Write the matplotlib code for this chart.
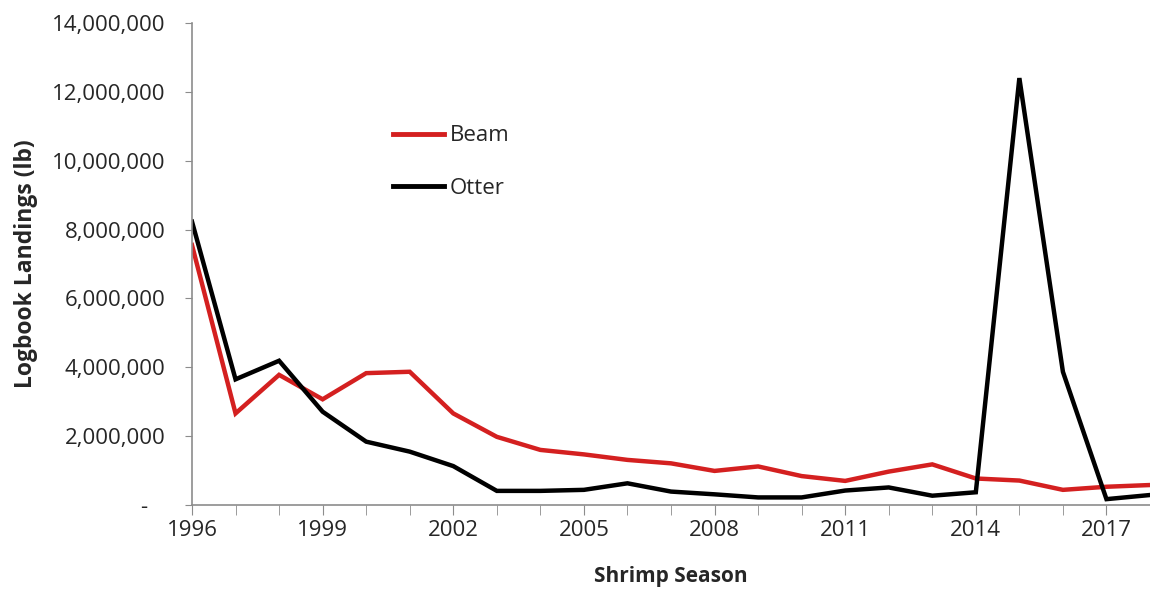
import matplotlib
matplotlib.use("agg")

from matplotlib import pyplot as plt
from matplotlib.ticker import FuncFormatter
import numpy as np

seasons = list(range(1996, 2019))

beam = [7550000, 2660000, 3780000, 3070000, 3830000, 3870000, 2660000, 1980000,
        1600000, 1470000, 1310000, 1210000, 990000, 1120000, 840000, 700000,
        970000, 1180000, 770000, 710000, 440000, 530000, 580000]

otter = [8230000, 3650000, 4190000, 2710000, 1840000, 1550000, 1130000, 410000,
         410000, 440000, 630000, 390000, 310000, 220000, 220000, 420000,
         510000, 270000, 370000, 12400000, 3870000, 170000, 290000]

year_ticks = [1996, 1999, 2002, 2005, 2008, 2011, 2014, 2017]
y_ticks = [0, 2000000, 4000000, 6000000, 8000000, 10000000, 12000000, 14000000]

plt.rcParams['font.family'] = ['Open Sans', 'DejaVu Sans']

fig = plt.figure(figsize=(11.5, 5.91), dpi=100)
ax = fig.add_axes([192 / 1150, 86 / 591, 958 / 1150, 482 / 591])

ax.plot(seasons, beam, color='#d42020', lw=3.2, label='Beam', solid_joinstyle='miter')
ax.plot(seasons, otter, color='black', lw=3.2, label='Otter', solid_joinstyle='miter')

ax.set_xlim(1996, 2018)
ax.set_ylim(0, 14000000)
ax.set_xticks(seasons, minor=True)
ax.set_xticks(year_ticks)
ax.set_yticks(y_ticks)

def accounting(v, pos):
    if v == 0:
        return '-   '
    return '{:,.0f}'.format(v)

ax.yaxis.set_major_formatter(FuncFormatter(accounting))

for side in ['top', 'right']:
    ax.spines[side].set_visible(False)
for side in ['left', 'bottom']:
    ax.spines[side].set_color('#8c8c8c')
    ax.spines[side].set_linewidth(1.2)

ax.tick_params(axis='y', length=5, color='#8c8c8c', labelsize=16, labelcolor='#262626', pad=14)
ax.tick_params(axis='x', which='both', length=7, color='#8c8c8c', labelsize=16,
               labelcolor='#262626', pad=4)

ax.set_xlabel('Shrimp Season', fontsize=15, fontweight='bold', color='#262626', labelpad=18)
ax.set_ylabel('Logbook Landings (lb)', fontsize=16.5, fontweight='bold', color='#262626', labelpad=10)

leg = ax.legend(loc='center left', bbox_to_anchor=(393 / 1150, 1 - 162 / 591),
                bbox_transform=fig.transFigure, frameon=False, fontsize=16,
                handlelength=2.3, handletextpad=0.25, labelspacing=1.4,
                borderpad=0, borderaxespad=0)
for line in leg.get_lines():
    line.set_linewidth(3.5)
for text in leg.get_texts():
    text.set_color('#262626')

plt.savefig('out.png', dpi=100)
plt.close()
